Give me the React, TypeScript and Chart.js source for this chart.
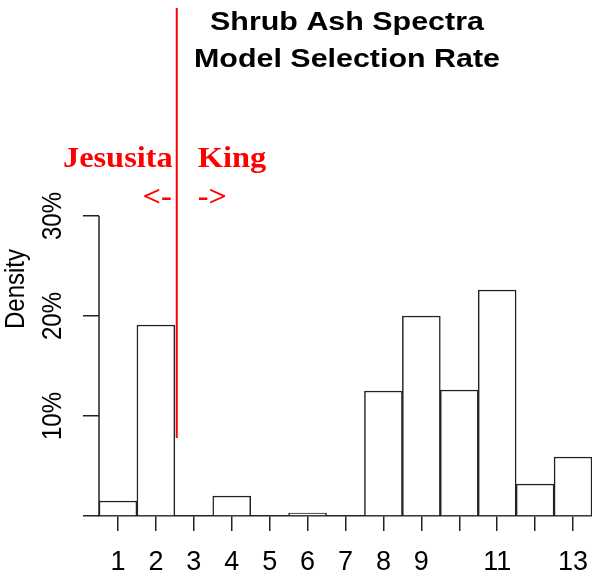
import { useEffect, useRef } from 'react';
import { Chart, registerables } from 'chart.js';

Chart.register(...registerables);

const bins = [1, 2, 3, 4, 5, 6, 7, 8, 9, 10, 11, 12, 13];
const rates = [0.015, 0.191, 0, 0.02, 0, 0.003, 0, 0.125, 0.2, 0.126, 0.226, 0.032, 0.059];
const xTickLabels = ['1', '2', '3', '4', '5', '6', '7', '8', '9', '', '11', '', '13'];
const yTicks = [0, 0.1, 0.2, 0.3];
const yTickLabels = ['', '10%', '20%', '30%'];
const splitX = [2.55, 2.55];
const splitY = [0.078, 0.508];
const titleLines = ['Shrub Ash Spectra', 'Model Selection Rate'];
const yTitle = 'Density';
const leftLabel = 'Jesusita';
const rightLabel = 'King';
const leftArrow = '<-';
const rightArrow = '->';
const xMin = 0.5;
const xMax = 13.5;
const yMax = 0.508;

const SANS = '"Liberation Sans", Arial, sans-serif';
const SERIF = '"Liberation Serif", "Times New Roman", serif';

const annotate = {
  id: 'annotate',
  afterDraw(chart: any) {
    const { ctx, chartArea } = chart;
    const xs = chart.scales.x;
    const ys = chart.scales.y;
    ctx.save();
    // y axis line from 0 to last tick
    ctx.strokeStyle = '#222';
    ctx.lineWidth = 1.5;
    ctx.beginPath();
    ctx.moveTo(chartArea.left, ys.getPixelForValue(yTicks[0]));
    ctx.lineTo(chartArea.left, ys.getPixelForValue(yTicks[yTicks.length - 1]));
    ctx.stroke();

    // rotated y tick labels
    ctx.fillStyle = '#000';
    ctx.font = '24px ' + SANS;
    ctx.textAlign = 'center';
    ctx.textBaseline = 'middle';
    yTicks.forEach((v, i) => {
      if (!yTickLabels[i]) return;
      ctx.save();
      ctx.translate(53, ys.getPixelForValue(v));
      ctx.scale(1.15, 1);
      ctx.rotate(-Math.PI / 2);
      ctx.fillText(yTickLabels[i], 0, 0);
      ctx.restore();
    });
    ctx.save();
    ctx.translate(17, 289);
    ctx.scale(1.12, 1);
    ctx.rotate(-Math.PI / 2);
    ctx.fillText(yTitle, 0, 0);
    ctx.restore();

    // title
    ctx.font = 'bold 26px ' + SANS;
    ctx.textBaseline = 'alphabetic';
    titleLines.forEach((t, i) => {
      ctx.save();
      ctx.translate(347, 30 + i * 37);
      ctx.scale(1.17, 1);
      ctx.fillText(t, 0, 0);
      ctx.restore();
    });

    // red labels
    const lx = xs.getPixelForValue(splitX[0]);
    ctx.fillStyle = '#ff0000';
    ctx.font = 'bold 30px ' + SERIF;
    const put = (t: string, x: number, y: number, align: string) => {
      ctx.save();
      ctx.translate(x, y);
      ctx.scale(1.08, 1);
      ctx.textAlign = align;
      ctx.fillText(t, 0, 0);
      ctx.restore();
    };
    put(leftLabel, lx - 4, 167, 'right');
    put(leftArrow, lx - 5, 206, 'right');
    put(rightLabel, lx + 21, 167, 'left');
    put(rightArrow, lx + 21, 206, 'left');
    ctx.restore();
  },
};

export default function App() {
  const ref = useRef<HTMLCanvasElement>(null);
  useEffect(() => {
    if (!ref.current) return;
    const chart = new Chart(ref.current, {
      type: 'bar',
      data: {
        datasets: [
          {
            type: 'bar',
            data: bins.map((b, i) => ({ x: b, y: rates[i] })),
            backgroundColor: '#ffffff',
            borderColor: '#222',
            borderWidth: 1.5,
            borderSkipped: 'start',
            barPercentage: 1,
            categoryPercentage: 1,
            order: 2,
          } as any,
          {
            type: 'line',
            data: splitX.map((x, i) => ({ x, y: splitY[i] })),
            borderColor: '#ff0000',
            borderWidth: 2,
            pointRadius: 0,
            fill: false,
            order: 1,
          } as any,
        ],
      },
      options: {
        animation: false,
        responsive: false,
        layout: { padding: { top: 8, right: 0, left: 0, bottom: 0 } },
        plugins: { legend: { display: false }, tooltip: { enabled: false }, title: { display: false } },
        scales: {
          x: {
            type: 'linear',
            min: xMin,
            max: xMax,
            offset: false,
            afterBuildTicks: (s: any) => {
              s.ticks = bins.map((v) => ({ value: v }));
            },
            afterFit: (s: any) => {
              s.height = 60;
              s.paddingLeft = 0;
              s.paddingRight = 0;
            },
            ticks: {
              autoSkip: false,
              maxRotation: 0,
              minRotation: 0,
              padding: 15,
              color: '#000',
              font: { family: SANS, size: 27 },
              callback: (v: any) => xTickLabels[bins.indexOf(Number(v))] ?? '',
            },
            grid: { offset: false, drawOnChartArea: false, drawTicks: true, tickLength: 15, color: '#222', lineWidth: 1.5 },
            border: { display: true, color: '#222', width: 1.5 },
          },
          y: {
            type: 'linear',
            min: 0,
            max: yMax,
            afterBuildTicks: (s: any) => {
              s.ticks = yTicks.map((v) => ({ value: v }));
            },
            afterFit: (s: any) => {
              s.width = 99;
              s.paddingTop = 0;
              s.paddingBottom = 0;
            },
            ticks: { display: false },
            grid: { drawOnChartArea: false, drawTicks: true, tickLength: 16, color: '#222', lineWidth: 1.5 },
            border: { display: false },
          },
        },
      } as any,
      plugins: [annotate],
    });
    return () => chart.destroy();
  }, []);
  return (
    <div style={{ position: 'fixed', left: 0, top: 0, width: 592, height: 576, background: '#fff' }}>
      <canvas ref={ref} width={592} height={576} />
    </div>
  );
}
